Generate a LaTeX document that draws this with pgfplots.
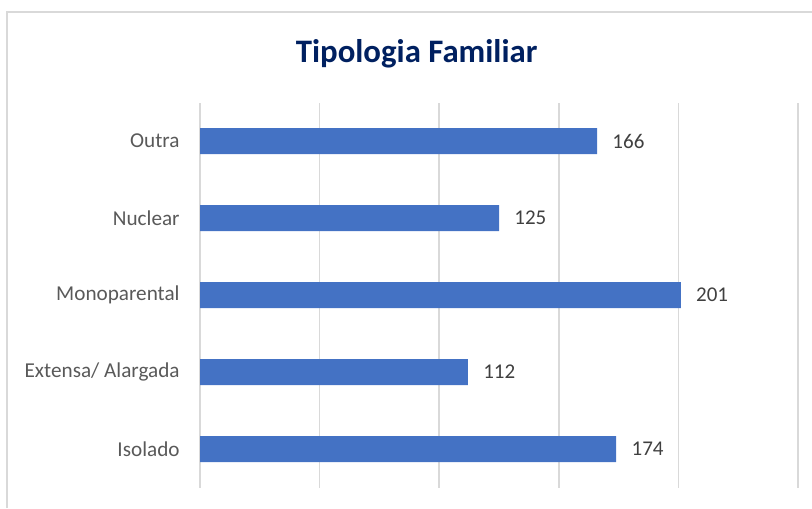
\documentclass[border=0pt]{standalone}
\usepackage{pgfplots}
\pgfplotsset{compat=1.18}
\usepackage{fontspec}
\setmainfont{Carlito}
\definecolor{barblue}{HTML}{4472C4}
\definecolor{gridgray}{HTML}{D9D9D9}
\definecolor{labgray}{HTML}{595959}
\definecolor{valgray}{HTML}{404040}
\definecolor{titleblue}{HTML}{002060}
\begin{document}
\begin{tikzpicture}
\path[use as bounding box] (0,0) rectangle (406pt,254pt);
\draw[gridgray, line width=0.75pt] (3.5pt,0) -- (3.5pt,248pt) -- (406pt,248pt);
\node[anchor=base, font=\fontsize{16.4pt}{19pt}\selectfont\bfseries, text=titleblue, inner sep=0pt] at (208.3pt,222.5pt) {Tipologia Familiar};
\begin{axis}[
  scale only axis,
  width=299pt, height=192.5pt,
  at={(100pt,10.25pt)}, anchor=south west,
  xmin=0, xmax=250, ymin=0.5, ymax=5.5,
  xtick={0,50,100,150,200,250}, xticklabels={},
  ytick={1,2,3,4,5},
  yticklabels={Isolado, Extensa/ Alargada, Monoparental, Nuclear, Outra},
  xmajorgrids, grid style={gridgray, line width=0.75pt},
  axis line style={draw=none},
  major tick length=0pt,
  tick style={draw=none},
  yticklabel style={font=\fontsize{10.6pt}{12pt}\selectfont, text=labgray, inner sep=0pt, anchor=east, xshift=-10pt},
  /pgf/number format/assume math mode=true,
  xbar, bar width=13pt,
  nodes near coords,
  nodes near coords style={font=\fontsize{10.5pt}{12pt}\selectfont, text=valgray, anchor=west, inner sep=0pt, xshift=7.5pt},
  clip=false,
]
\addplot[fill=barblue, draw=none] coordinates {(174,1) (112,2) (201,3) (125,4) (166,5)};
\end{axis}
\end{tikzpicture}
\end{document}
